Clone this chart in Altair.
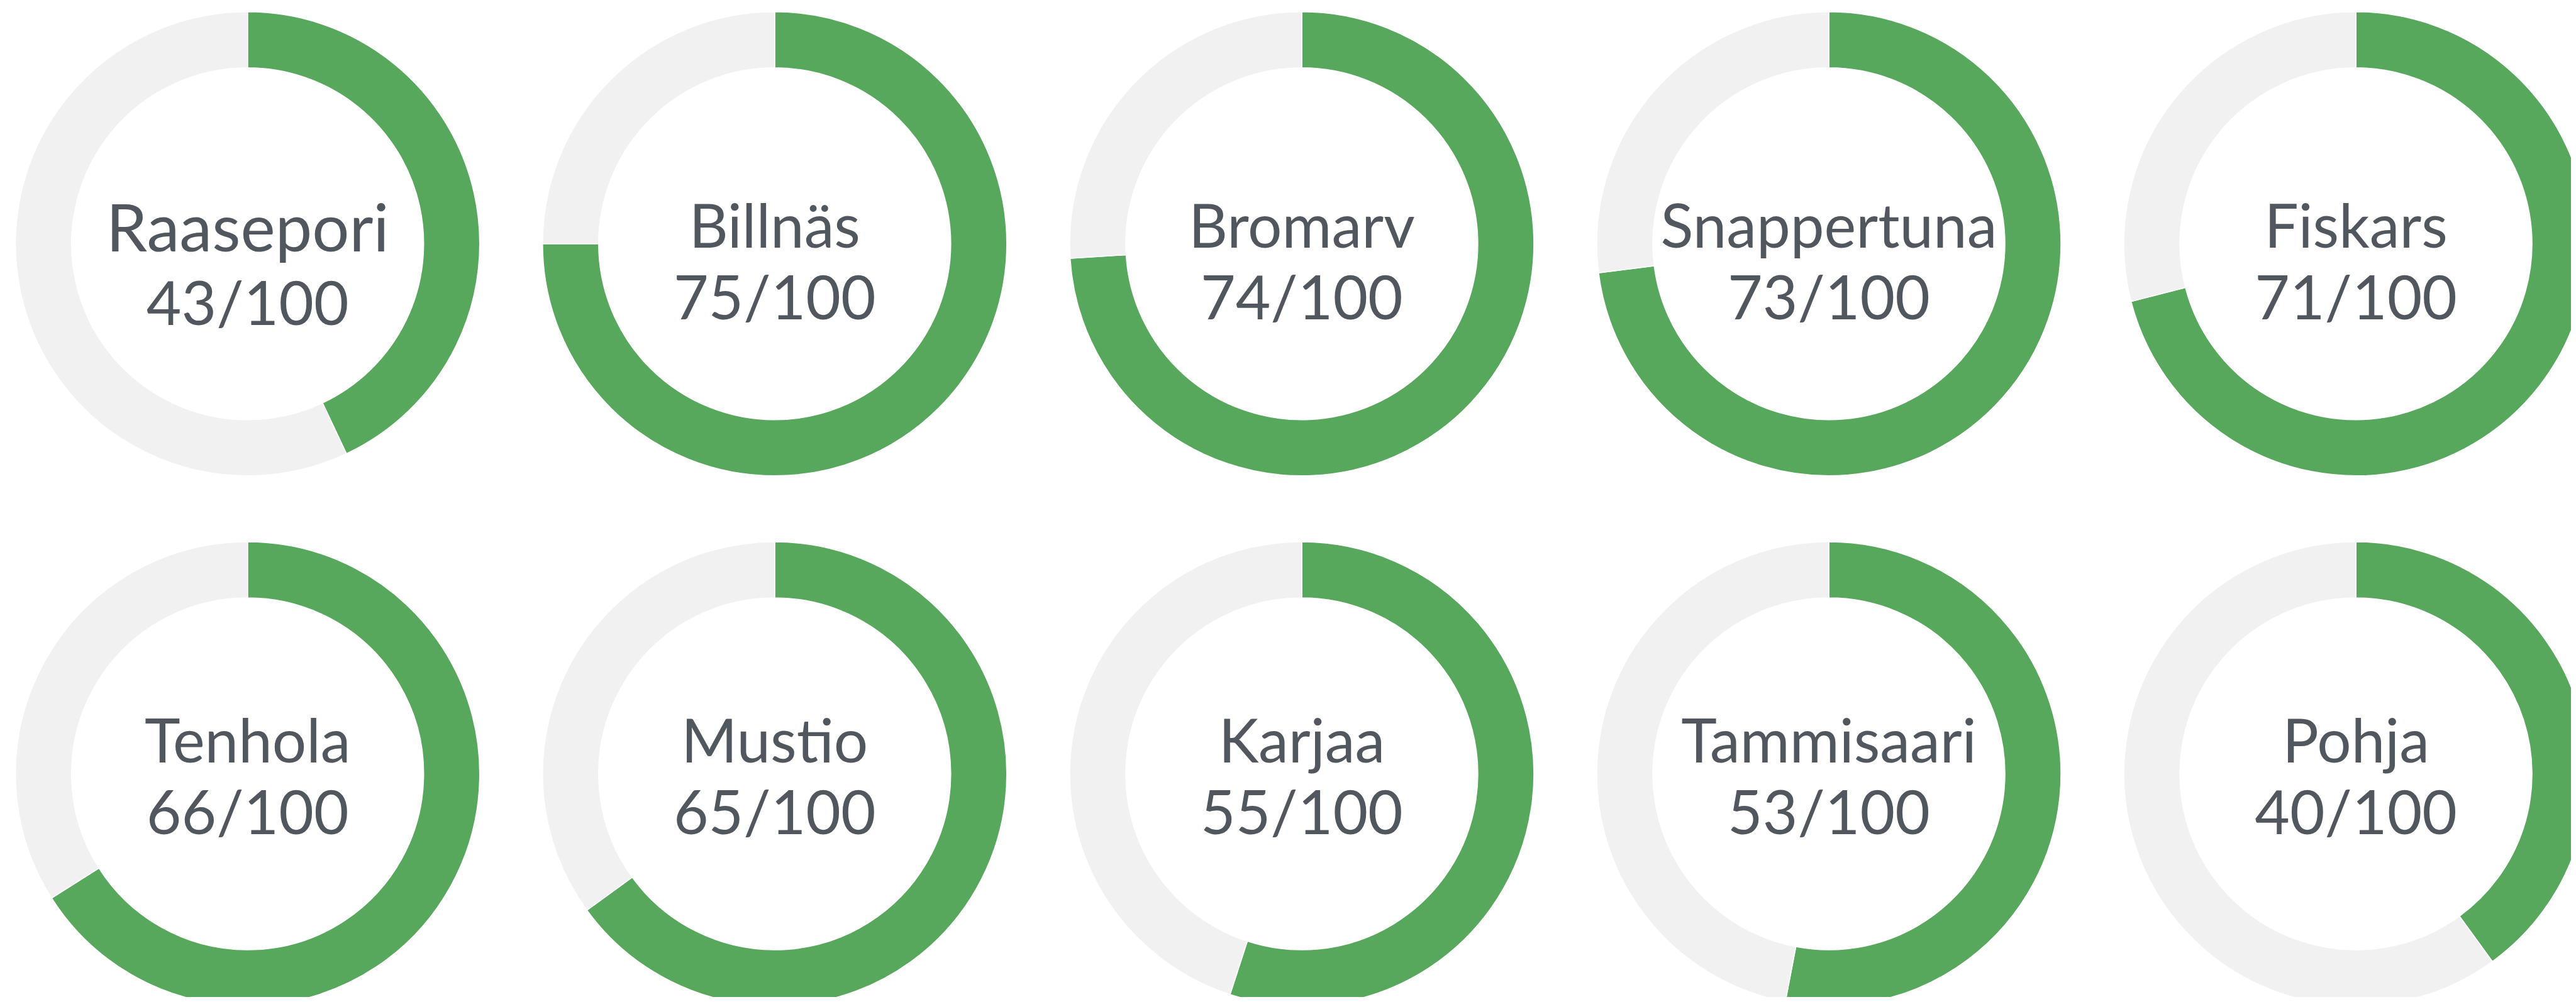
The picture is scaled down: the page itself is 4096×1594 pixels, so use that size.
import altair as alt
import pandas as pd

# ---- data ----
names = ["Raasepori", "Billnäs", "Bromarv", "Snappertuna", "Fiskars",
         "Tenhola", "Mustio", "Karjaa", "Tammisaari", "Pohja"]
scores = [43, 75, 74, 73, 71, 66, 65, 55, 53, 40]
max_score = 100
grid_col = [0, 1, 2, 3, 4, 0, 1, 2, 3, 4]
grid_row = [0, 0, 0, 0, 0, 1, 1, 1, 1, 1]
label_group = ["main", "row1", "row1", "row1", "row1",
               "row2", "row2", "row2", "row2", "row2"]

GREEN = "#57a85c"
GREY = "#f1f1f1"
TEXT = "#51575e"

# ---- tables built from the lists ----
seg_rows = []
for n, s, c, r in zip(names, scores, grid_col, grid_row):
    seg_rows.append({"name": n, "col": c, "row": r, "start": 0, "end": s, "seg": "score"})
    seg_rows.append({"name": n, "col": c, "row": r, "start": s, "end": max_score, "seg": "rest"})
seg_df = pd.DataFrame(seg_rows)

lab_df = pd.DataFrame({
    "name": names,
    "label": [f"{s}/{max_score}" for s in scores],
    "col": grid_col,
    "row": grid_row,
    "grp": label_group,
})

W, H = 4080, 1578
x0, dx = 385.7, 838.1
y0, dy_row = 379.8, 843.2
x_enc = alt.X("col:Q", axis=None,
              scale=alt.Scale(domain=[-x0 / dx, (W - x0) / dx], zero=False, nice=False))
y_enc = alt.Y("row:Q", axis=None,
              scale=alt.Scale(domain=[-y0 / dy_row, (H - y0) / dy_row],
                              zero=False, nice=False, reverse=True))

arcs = alt.Chart(seg_df).mark_arc(
    radius=369, radius2=280, stroke="white", strokeWidth=1.5, clip=True
).encode(
    x=x_enc,
    y=y_enc,
    theta=alt.Theta("start:Q", stack=None,
                    scale=alt.Scale(domain=[0, max_score], range=[0, 6.283185307179586])),
    theta2="end:Q",
    color=alt.Color("seg:N", legend=None,
                    scale=alt.Scale(domain=["score", "rest"], range=[GREEN, GREY])),
)

def text_layer(field, grp, dy, size):
    return alt.Chart(lab_df).transform_filter(
        alt.datum.grp == grp
    ).mark_text(
        font="Lato", fontSize=size, color=TEXT, align="center",
        baseline="alphabetic", dy=dy
    ).encode(x=x_enc, y=y_enc, text=f"{field}:N")

texts = [
    text_layer("name", "main", 12.6, 104.5),
    text_layer("label", "main", 128.8, 96),
    text_layer("name", "row1", 5.8, 96),
    text_layer("label", "row1", 120, 96),
    text_layer("name", "row2", -18.5, 96),
    text_layer("label", "row2", 96.2, 96),
]

chart = alt.layer(arcs, *texts).properties(
    width=W, height=H, padding=0, background="white"
).configure_view(stroke=None)

chart.save("out.html", embed_options={"renderer": "svg", "actions": False})
